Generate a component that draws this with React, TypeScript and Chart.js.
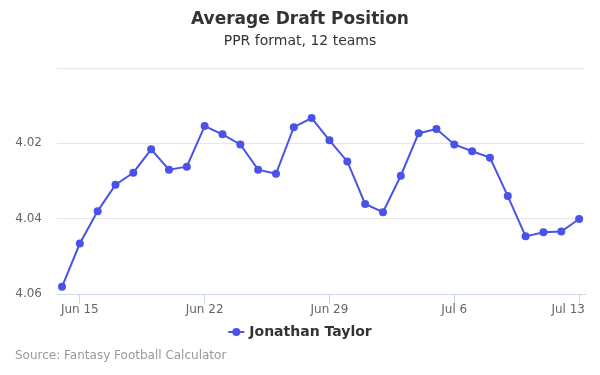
import React, { useEffect, useRef } from 'react';
import { Chart, registerables } from 'chart.js';

Chart.register(...registerables);

const dates = [
  'Jun 14', 'Jun 15', 'Jun 16', 'Jun 17', 'Jun 18', 'Jun 19', 'Jun 20', 'Jun 21', 'Jun 22', 'Jun 23',
  'Jun 24', 'Jun 25', 'Jun 26', 'Jun 27', 'Jun 28', 'Jun 29', 'Jun 30', 'Jul 1', 'Jul 2', 'Jul 3',
  'Jul 4', 'Jul 5', 'Jul 6', 'Jul 7', 'Jul 8', 'Jul 9', 'Jul 10', 'Jul 11', 'Jul 12', 'Jul 13',
];

const adp = [
  4.0581, 4.0466, 4.038, 4.031, 4.0278, 4.0216, 4.027, 4.0262, 4.0154, 4.0176,
  4.0203, 4.027, 4.0281, 4.0157, 4.0133, 4.0192, 4.0248, 4.0361, 4.0383, 4.0286,
  4.0173, 4.0162, 4.0203, 4.0221, 4.0238, 4.034, 4.0447, 4.0436, 4.0434, 4.0401,
];

const xTickLabels = ['Jun 15', 'Jun 22', 'Jun 29', 'Jul 6', 'Jul 13'];
const yTicks = [4.0, 4.02, 4.04, 4.06];

const seriesName = 'Jonathan Taylor';
const titleText = 'Average Draft Position';
const subtitleText = 'PPR format, 12 teams';
const sourceText = 'Source: Fantasy Football Calculator';

const COLOR = '#4a53e8';
const FONT = '"DejaVu Sans", sans-serif';

const decor = {
  id: 'decor',
  afterDraw(chart: any) {
    const ctx = chart.ctx as CanvasRenderingContext2D;
    const area = chart.chartArea;
    ctx.save();
    ctx.textBaseline = 'middle';

    // title
    ctx.fillStyle = '#333333';
    ctx.textAlign = 'center';
    ctx.font = `bold 17px ${FONT}`;
    ctx.fillText(titleText, 300, 20);
    ctx.font = `14px ${FONT}`;
    ctx.fillText(subtitleText, 300, 41);

    // x labels
    const xs = chart.scales.x;
    ctx.font = `12px ${FONT}`;
    ctx.fillStyle = '#666666';
    ctx.textAlign = 'left';
    xs.ticks.forEach((t: any) => {
      const label = dates[t.value];
      const w = ctx.measureText(label).width;
      let x = xs.getPixelForValue(t.value) - w / 2;
      if (x + w > area.right) x = area.right - w;
      if (x < area.left) x = area.left;
      ctx.fillText(label, x, 310);
    });

    // legend
    const ds = chart.data.datasets[0];
    ctx.font = `bold 14px ${FONT}`;
    const tw = ctx.measureText(ds.label).width;
    const total = 16 + 5 + tw;
    const sx = 300 - total / 2;
    const ly = 332;
    ctx.strokeStyle = COLOR;
    ctx.lineWidth = 2;
    ctx.beginPath();
    ctx.moveTo(sx, ly);
    ctx.lineTo(sx + 16, ly);
    ctx.stroke();
    ctx.fillStyle = COLOR;
    ctx.beginPath();
    ctx.arc(sx + 8, ly, 4, 0, Math.PI * 2);
    ctx.fill();
    ctx.fillStyle = '#333333';
    ctx.fillText(ds.label, sx + 21, ly);

    // source
    ctx.font = `12px ${FONT}`;
    ctx.fillStyle = '#999999';
    ctx.fillText(sourceText, 15, 356);
    ctx.restore();
  },
};

export default function App() {
  const ref = useRef<HTMLCanvasElement>(null);

  useEffect(() => {
    if (!ref.current) return;
    const chart = new Chart(ref.current, {
      type: 'line',
      data: {
        datasets: [
          {
            label: seriesName,
            data: dates.map((_, i) => ({ x: i, y: adp[i] })),
            borderColor: COLOR,
            backgroundColor: COLOR,
            borderWidth: 2,
            pointRadius: 4,
            pointBorderWidth: 0,
            pointBackgroundColor: COLOR,
            tension: 0,
          },
        ],
      },
      options: {
        responsive: false,
        animation: false,
        events: [],
        layout: { padding: { top: 68, left: 0, right: 15, bottom: 71 } },
        plugins: {
          legend: { display: false },
          title: { display: false },
          tooltip: { enabled: false },
        },
        scales: {
          x: {
            type: 'linear',
            min: -0.28,
            max: 29.33,
            afterBuildTicks: (scale: any) => {
              scale.ticks = xTickLabels.map((l) => ({ value: dates.indexOf(l) }));
            },
            afterFit: (scale: any) => {
              scale.height = 10;
              scale.paddingLeft = 0;
              scale.paddingRight = 0;
            },
            ticks: { display: false },
            grid: {
              display: true,
              drawOnChartArea: false,
              drawTicks: true,
              tickLength: 10,
              color: '#ccd6eb',
              lineWidth: 1,
            },
            border: { display: true, color: '#ccd6eb', width: 1 },
          },
          y: {
            type: 'linear',
            reverse: true,
            min: 4.0,
            max: 4.06,
            afterBuildTicks: (scale: any) => {
              scale.ticks = yTicks.map((v) => ({ value: v }));
            },
            afterFit: (scale: any) => {
              scale.width = 57;
              scale.paddingTop = 0;
              scale.paddingBottom = 0;
            },
            ticks: {
              padding: 15,
              color: '#666666',
              font: { family: FONT, size: 12 },
              callback: (v: any) => (Math.abs(Number(v) - 4.0) < 1e-9 ? '' : Number(v).toFixed(2)),
            },
            grid: { color: '#e6e6e6', lineWidth: 1, drawTicks: false },
            border: { display: false },
          },
        },
      },
      plugins: [decor],
    });
    return () => chart.destroy();
  }, []);

  return (
    <div style={{ position: 'absolute', left: 0, top: 0, width: 600, height: 375, background: '#fff' }}>
      <canvas ref={ref} width={600} height={375} />
    </div>
  );
}
